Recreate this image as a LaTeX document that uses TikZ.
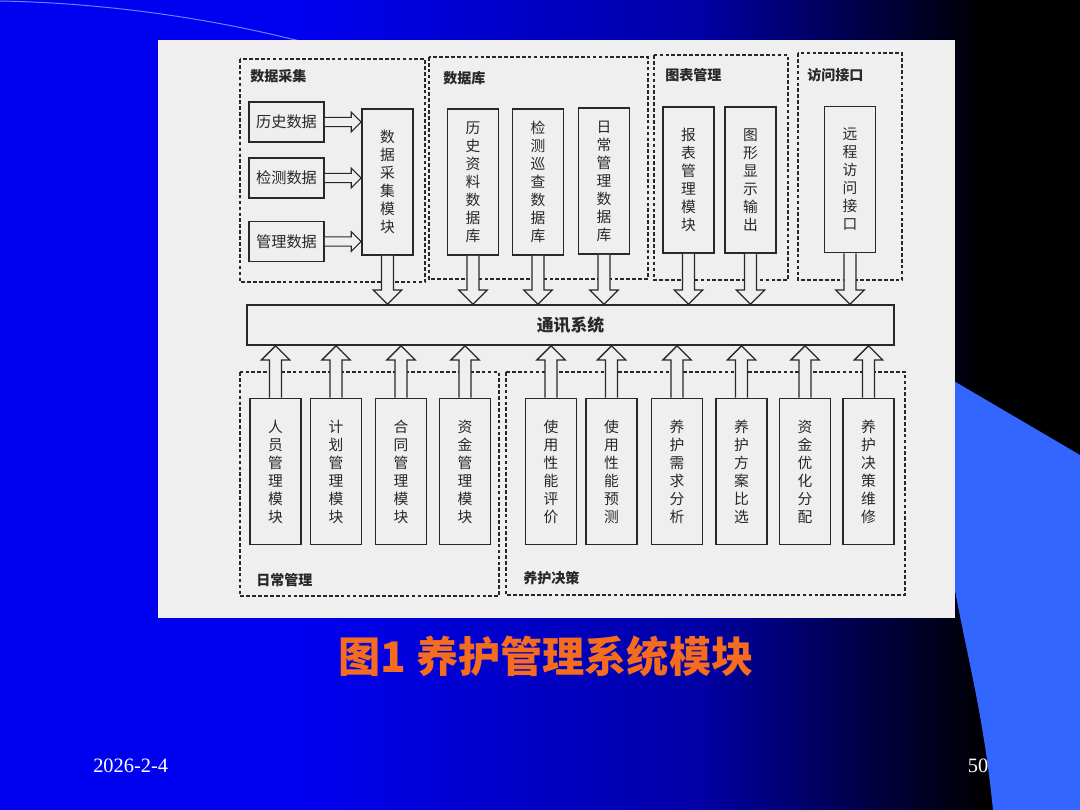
\documentclass[tikz,border=0pt]{standalone}
\usepackage{fontspec}
\setmainfont{Liberation Serif}
\newfontfamily\cjk{Noto Sans CJK SC}
\usetikzlibrary{calc}

\definecolor{slideblue}{RGB}{0,0,240}
\definecolor{midblue}{RGB}{0,0,165}
\definecolor{lightblue}{RGB}{51,102,255}
\definecolor{arcblue}{RGB}{110,130,255}
\definecolor{panel}{RGB}{239,239,239}
\definecolor{ink}{RGB}{40,40,40}
\definecolor{captionorange}{RGB}{245,108,30}

\begin{document}
\begin{tikzpicture}[
    x=0.025cm, y=-0.025cm,
    font=\cjk,
    vbox/.style={
        draw=ink,
        line width=1.2pt,
        fill=panel,
        align=center,
        minimum width=1.275cm,
        minimum height=3.65cm,
        inner sep=0pt,
        text=ink,
        font=\cjk\fontsize{10.5pt}{12.8pt}\selectfont
    },
    hbox/.style={
        draw=ink,
        line width=1.2pt,
        fill=panel,
        align=center,
        minimum width=1.875cm,
        minimum height=1.0cm,
        inner sep=0pt,
        text=ink,
        font=\cjk\fontsize{10.8pt}{12.8pt}\selectfont
    },
    group/.style={draw=ink, line width=0.9pt, dash pattern=on 2.6pt off 1.6pt},
    grouplabel/.style={anchor=west, inner sep=0pt, text=ink,
        font=\cjk\bfseries\fontsize{10pt}{12pt}\selectfont},
    fatpath/.style={to path={
        let \p1=(\tikztostart), \p2=(\tikztotarget),
            \n1={veclen(\x2-\x1,\y2-\y1)},
            \n2={(\x2-\x1)/\n1}, \n3={(\y2-\y1)/\n1} in
        ({\x1-(\n3)*\arwshaft},{\y1+(\n2)*\arwshaft})
        -- ({\x2-(\n2)*\arwlen-(\n3)*\arwshaft},{\y2-(\n3)*\arwlen+(\n2)*\arwshaft})
        -- ({\x2-(\n2)*\arwlen-(\n3)*\arwhead},{\y2-(\n3)*\arwlen+(\n2)*\arwhead})
        -- (\x2,\y2)
        -- ({\x2-(\n2)*\arwlen+(\n3)*\arwhead},{\y2-(\n3)*\arwlen-(\n2)*\arwhead})
        -- ({\x2-(\n2)*\arwlen+(\n3)*\arwshaft},{\y2-(\n3)*\arwlen-(\n2)*\arwshaft})
        -- ({\x1+(\n3)*\arwshaft},{\y1-(\n2)*\arwshaft})
    }},
    fatarrow/.style={fatpath, draw=ink, line width=0.9pt, fill=panel,
        /utils/exec={\def\arwshaft{4.3}\def\arwhead{10}\def\arwlen{10}}},
    smallarrow/.style={fatpath, draw=ink, line width=0.8pt, fill=panel,
        /utils/exec={\def\arwshaft{3.3}\def\arwhead{7}\def\arwlen{7}}}
]
\useasboundingbox (0,0) rectangle (1080,810);

% ---------------------------------------------------------------------------
% Slide background
% ---------------------------------------------------------------------------
\fill[slideblue] (0,0) rectangle (301,810);
\shade[left color=slideblue, right color=midblue] (300,0) rectangle (701,810);
\shade[left color=midblue, right color=black] (700,0) rectangle (986,810);
\fill[black] (985,0) rectangle (1080,810);

\fill[lightblue] (930,367) -- (1080,455) -- (1080,810) -- (993,810)
    .. controls (982,700) and (962,640) .. (950,560) -- cycle;
\draw[arcblue, line width=0.7pt] (0,1) .. controls (110,3) and (230,20) .. (340,52);

% ---------------------------------------------------------------------------
% Figure panel and groups
% ---------------------------------------------------------------------------
\fill[panel] (158,40) rectangle (955,618);

\draw[group] (240,59) rectangle (425,282);
\draw[group] (429,57) rectangle (648,279);
\draw[group] (654,55) rectangle (788,280);
\draw[group] (798,53) rectangle (902,280);
\draw[group] (240,372) rectangle (499,596);
\draw[group] (506,372) rectangle (905,595);

\node[grouplabel] (lblacq) at (250,76) {数据采集};
\node[grouplabel] (lbldb) at (443,78) {数据库};
\node[grouplabel] (lblchart) at (665,75) {图表管理};
\node[grouplabel] (lblaccess) at (807,75) {访问接口};
\node[grouplabel] (lbldaily) at (256,580) {日常管理};
\node[grouplabel] (lblmaint) at (523,578) {养护决策};

% ---------------------------------------------------------------------------
% Top modules
% ---------------------------------------------------------------------------
\node[hbox] (hist) at (286.5,122) {历史数据};
\node[hbox] (insp) at (286.5,178) {检测数据};
\node[hbox] (mgmt) at (286.5,241.5) {管理数据};
\node[vbox] (acq) at (387.5,182) {数\\据\\采\\集\\模\\块};

\node[vbox] (dbhist) at (473,182) {历\\史\\资\\料\\数\\据\\库};
\node[vbox] (dbinsp) at (538,182) {检\\测\\巡\\查\\数\\据\\库};
\node[vbox] (dbdaily) at (604,181) {日\\常\\管\\理\\数\\据\\库};

\node[vbox] (report) at (688.5,180) {报\\表\\管\\理\\模\\块};
\node[vbox] (graph) at (750.5,180) {图\\形\\显\\示\\输\\出};
\node[vbox] (remote) at (850,179.5) {远\\程\\访\\问\\接\\口};

% ---------------------------------------------------------------------------
% Communication bar
% ---------------------------------------------------------------------------
\node[draw=ink, line width=1.2pt, fill=panel, minimum width=16.175cm,
    minimum height=1.0cm, text=ink, font=\cjk\bfseries\fontsize{12pt}{14pt}\selectfont]
    (comm) at (570.5,325) {通讯系统};

% ---------------------------------------------------------------------------
% Bottom modules
% ---------------------------------------------------------------------------
\node[vbox] (staff) at (275.5,471.5) {人\\员\\管\\理\\模\\块};
\node[vbox] (plan) at (336,471.5) {计\\划\\管\\理\\模\\块};
\node[vbox] (contract) at (401,471.5) {合\\同\\管\\理\\模\\块};
\node[vbox] (fund) at (465,471.5) {资\\金\\管\\理\\模\\块};

\node[vbox] (perfeval) at (551,471.5) {使\\用\\性\\能\\评\\价};
\node[vbox] (perfpred) at (611.5,471.5) {使\\用\\性\\能\\预\\测};
\node[vbox] (needs) at (677,471.5) {养\\护\\需\\求\\分\\析};
\node[vbox] (scheme) at (741.5,471.5) {养\\护\\方\\案\\比\\选};
\node[vbox] (optim) at (805,471.5) {资\\金\\优\\化\\分\\配};
\node[vbox] (decide) at (868.5,471.5) {养\\护\\决\\策\\维\\修};

% ---------------------------------------------------------------------------
% Arrows - data into acquisition module
% ---------------------------------------------------------------------------
\draw[smallarrow] (hist.east) to (acq.west |- hist.east);
\draw[smallarrow] (insp.east) to (acq.west |- insp.east);
\draw[smallarrow] (mgmt.east) to (acq.west |- mgmt.east);

% ---------------------------------------------------------------------------
% Arrows - top modules down to communication
% ---------------------------------------------------------------------------
\draw[fatarrow] (acq.south) to (acq.south |- comm.north);
\draw[fatarrow] (dbhist.south) to (dbhist.south |- comm.north);
\draw[fatarrow] (dbinsp.south) to (dbinsp.south |- comm.north);
\draw[fatarrow] (dbdaily.south) to (dbdaily.south |- comm.north);
\draw[fatarrow] (report.south) to (report.south |- comm.north);
\draw[fatarrow] (graph.south) to (graph.south |- comm.north);
\draw[fatarrow] (remote.south) to (remote.south |- comm.north);

% ---------------------------------------------------------------------------
% Arrows - bottom modules up to communication
% ---------------------------------------------------------------------------
\draw[fatarrow] (staff.north) to (staff.north |- comm.south);
\draw[fatarrow] (plan.north) to (plan.north |- comm.south);
\draw[fatarrow] (contract.north) to (contract.north |- comm.south);
\draw[fatarrow] (fund.north) to (fund.north |- comm.south);
\draw[fatarrow] (perfeval.north) to (perfeval.north |- comm.south);
\draw[fatarrow] (perfpred.north) to (perfpred.north |- comm.south);
\draw[fatarrow] (needs.north) to (needs.north |- comm.south);
\draw[fatarrow] (scheme.north) to (scheme.north |- comm.south);
\draw[fatarrow] (optim.north) to (optim.north |- comm.south);
\draw[fatarrow] (decide.north) to (decide.north |- comm.south);

% ---------------------------------------------------------------------------
% Caption and footer
% ---------------------------------------------------------------------------
\node[text=captionorange, font=\cjk\bfseries\fontsize{30pt}{36pt}\selectfont]
    (caption) at (546,656) {图1 养护管理系统模块};
\node[anchor=west, text=white, inner sep=0pt, font=\rmfamily\fontsize{14.5pt}{17pt}\selectfont]
    (date) at (93,766) {2026-2-4};
\node[text=white, inner sep=0pt, font=\rmfamily\fontsize{14.5pt}{17pt}\selectfont]
    (page) at (978,766) {50};

\end{tikzpicture}
\end{document}
